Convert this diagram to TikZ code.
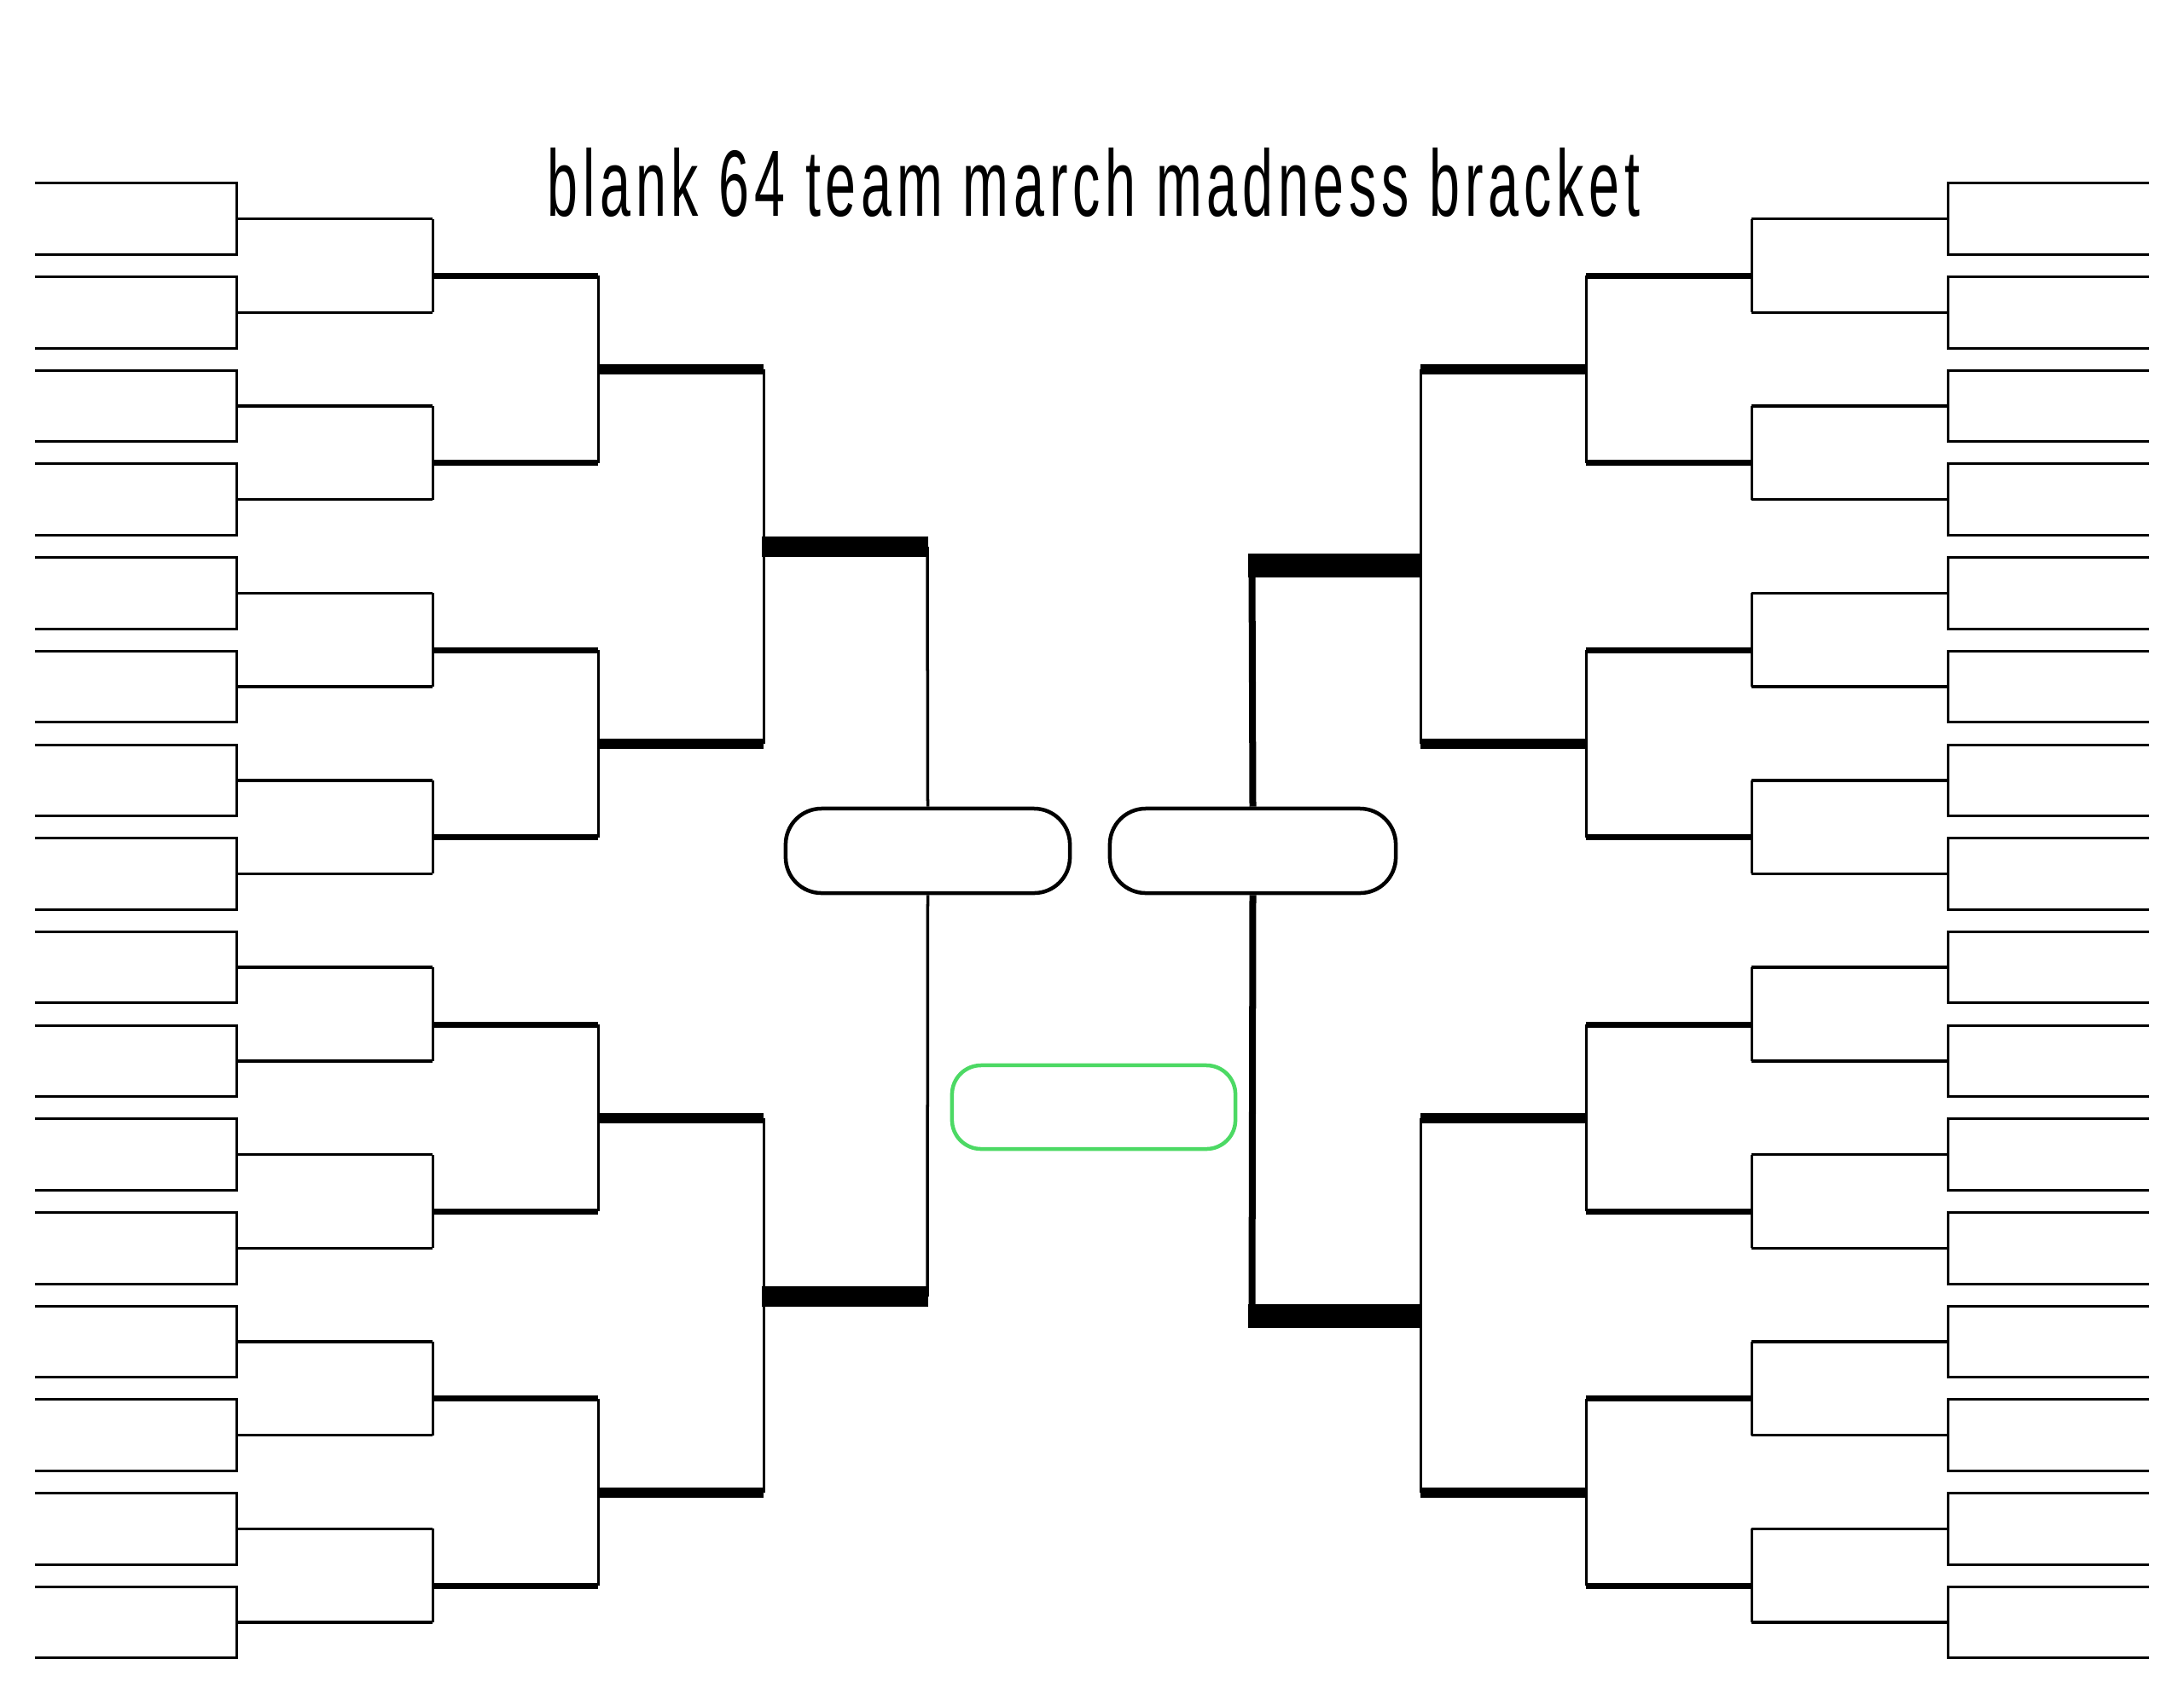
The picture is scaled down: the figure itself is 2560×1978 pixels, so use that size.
\documentclass[tikz,border=0pt]{standalone}
\usepackage{fontspec}
\setmainfont{Liberation Sans}
\newfontfamily\titlefont[LetterSpace=9]{Liberation Sans}
\definecolor{champgreen}{RGB}{76,217,100}

\begin{document}
\begin{tikzpicture}[x=0.01cm,y=-0.01cm,
  r1/.style={line width=0.03cm},
  r2/.style={line width=0.035cm},
  r3/.style={line width=0.07cm},
  r4/.style={line width=0.12cm},
  tie/.style={line width=0.03cm},
  pill/.style={draw,fill=white,rounded corners=0.42cm,minimum width=3.33cm,minimum height=0.99cm,line width=0.045cm}]

\useasboundingbox (0,0) rectangle (2560,1978);

\node[anchor=base,inner sep=0pt] (title) at (1282,253) {\resizebox{12.8cm}{0.8cm}{\titlefont blank 64 team march madness bracket}};

% both halves, the right one mirrored
\foreach \sx/\mir in {0/1,2560/-1}{
\begin{scope}[shift={(\sx,0)},xscale=\mir]
  \foreach \k in {0,...,15}{
    \pgfmathsetmacro\ya{214.8+109.7*\k}
    \pgfmathsetmacro\yb{\ya+83.5}
    \draw[r1] (41,\ya) -- (277,\ya) -- (277,\yb) -- (41,\yb);
    \draw[r2] (277,\ya+41.75) -- (507,\ya+41.75);
  }
  \foreach \j in {0,...,7}{
    \pgfmathsetmacro\ya{256.55+219.4*\j}
    \draw[tie] (507,\ya) -- (507,\ya+109.7);
    \draw[r3] (507,\ya+66.85) -- (701,\ya+66.85);
  }
  \foreach \i in {0,...,3}{
    \pgfmathsetmacro\ya{323.4+438.8*\i}
    \draw[tie] (701,\ya) -- (701,\ya+219.4);
    \draw[r4] (701,\ya+109.7) -- (895,\ya+109.7);
  }
  \draw[tie] (895,433.1) -- (895,871.9);
  \draw[tie] (895,1310.7) -- (895,1749.5);
\end{scope}
}

% semifinal and final boxes
\node[pill] (semiL) at (1087.5,997.5) {};
\node[pill,minimum width=3.35cm] (semiR) at (1468.5,997.5) {};
\node[pill,draw=champgreen,rounded corners=0.34cm,minimum width=3.32cm,minimum height=0.98cm] (champ) at (1282,1298) {};

% left semifinal
\coordinate (sfLa) at (1087,641);
\coordinate (sfLb) at (1087,1520);
\draw[line width=0.24cm] (893,641) -- (1088,641);
\draw[line width=0.24cm] (893,1520) -- (1088,1520);
\draw[line width=0.035cm] (sfLa) -- (semiL.north);
\draw[line width=0.035cm] (semiL.south) -- (sfLb);

% right semifinal
\coordinate (sfRa) at (1467.5,663);
\coordinate (sfRb) at (1467.5,1543);
\draw[line width=0.28cm] (1463,663) -- (1665,663);
\draw[line width=0.28cm] (1463,1543) -- (1665,1543);
\draw[line width=0.08cm] (sfRa) -- (semiR.north);
\draw[line width=0.08cm] (semiR.south) -- (sfRb);

\end{tikzpicture}
\end{document}
